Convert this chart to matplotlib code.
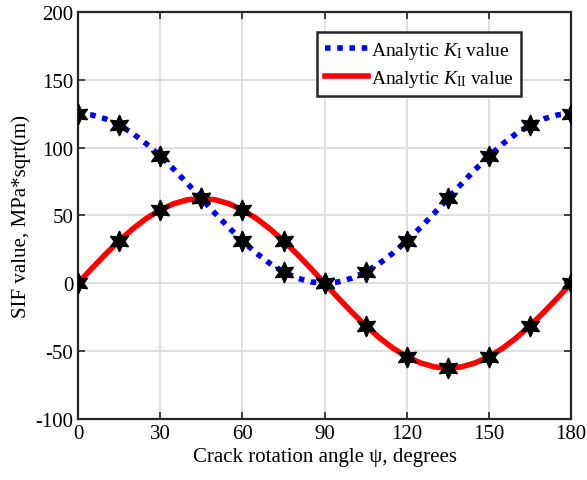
import matplotlib.pyplot as plt
import numpy as np

plt.rcParams['font.family'] = ['Liberation Serif', 'DejaVu Serif']
plt.rcParams['mathtext.fontset'] = 'custom'
plt.rcParams['mathtext.rm'] = 'Liberation Serif'
plt.rcParams['mathtext.it'] = 'Liberation Serif:italic'
plt.rcParams['axes.unicode_minus'] = False

# analytic curves, read every 5 degrees
angle = np.arange(0, 181, 5)
k1_analytic = [125.0, 124.1, 121.2, 116.6, 110.4, 102.7, 93.8, 83.9, 73.4, 62.5,
               51.6, 41.1, 31.3, 22.3, 14.6, 8.4, 3.8, 1.0, 0.0,
               1.0, 3.8, 8.4, 14.6, 22.3, 31.3, 41.1, 51.6, 62.5,
               73.4, 83.9, 93.8, 102.7, 110.4, 116.6, 121.2, 124.1, 125.0]
k2_analytic = [0.0, 10.9, 21.4, 31.3, 40.2, 47.9, 54.1, 58.7, 61.6, 62.5,
               61.6, 58.7, 54.1, 47.9, 40.2, 31.3, 21.4, 10.9, 0.0,
               -10.9, -21.4, -31.3, -40.2, -47.9, -54.1, -58.7, -61.6, -62.5,
               -61.6, -58.7, -54.1, -47.9, -40.2, -31.3, -21.4, -10.9, 0.0]

# numerical points every 15 degrees
num_angle = np.arange(0, 181, 15)
k1_num = [125, 116.6, 93.8, 62.5, 31.3, 8.4, 0, 8.4, 31.3, 62.5, 93.8, 116.6, 125]
k2_num = [0, 31.3, 54.1, 62.5, 54.1, 31.3, 0, -31.3, -54.1, -62.5, -54.1, -31.3, 0]

fig = plt.figure(figsize=(5.87, 4.81), dpi=100)
ax = fig.add_axes([0.133, 0.127, 0.840, 0.846])

ax.plot(angle, k1_analytic, color="blue", linestyle=(0, (1, 1.2)), linewidth=4,
        label=r"Analytic $K_{\mathrm{I}}$ value", zorder=3)
ax.plot(angle, k2_analytic, color="red", linewidth=4,
        label=r"Analytic $K_{\mathrm{II}}$ value", zorder=3)

star = (6, 1, 0)
ax.plot(num_angle, k1_num, linestyle="none", marker=star, markersize=15,
        color="black", zorder=4)
ax.plot(num_angle, k2_num, linestyle="none", marker=star, markersize=15,
        color="black", zorder=4)

ax.set_xlim(0, 180)
ax.set_ylim(-100, 200)
ax.set_xticks(np.arange(0, 181, 30))
ax.set_yticks(np.arange(-100, 201, 50))
ax.tick_params(direction="in", labelsize=15, length=5, width=1.2, top=True, right=True,
               color="#262626")
for s in ax.spines.values():
    s.set_linewidth(1.6)
    s.set_color("#262626")

ax.grid(color="#d9d9d9", linewidth=1.2)
ax.set_axisbelow(True)

ax.set_xlabel("Crack rotation angle ψ, degrees", fontsize=15, labelpad=3)
ax.set_ylabel("SIF value, MPa*sqrt(m)", fontsize=15, labelpad=3)

leg = ax.legend(loc="upper right", bbox_to_anchor=(0.899, 0.951), fontsize=14,
                fancybox=False, framealpha=1, edgecolor="#262626",
                handlelength=2.2, handletextpad=0.15, borderpad=0.4,
                labelspacing=0.35, borderaxespad=0)
leg.get_frame().set_linewidth(1.8)

fig.savefig("out.png", dpi=100)
